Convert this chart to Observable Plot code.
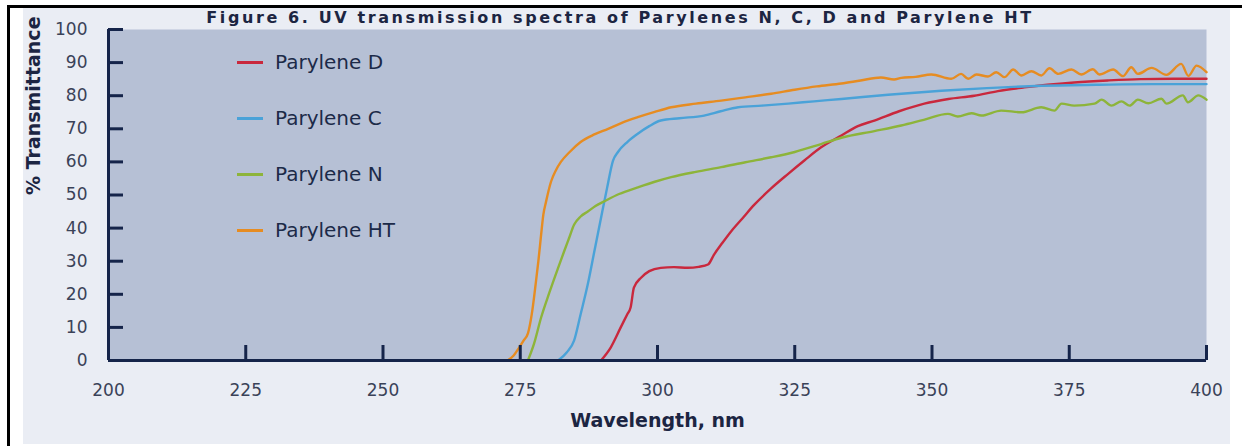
<!DOCTYPE html>
<html>
<head>
<meta charset="utf-8">
<script src="https://cdn.jsdelivr.net/npm/d3@7"></script>
<script src="https://cdn.jsdelivr.net/npm/@observablehq/plot@0.6"></script>
<style>
  html, body { margin: 0; padding: 0; background: #ffffff; }
  #wrap { position: relative; width: 1242px; height: 446px; overflow: hidden; background: #ffffff; font-family: "DejaVu Sans", sans-serif; }
  #scan { position: absolute; left: 23px; top: 8px; width: 1207px; height: 436px; background: #eaedf4; }
  #topline { position: absolute; left: 7px; top: 5px; width: 1235px; height: 3px; background: #000; }
  #leftline { position: absolute; left: 7px; top: 5px; width: 2.5px; height: 441px; background: #000; }
  #title { position: absolute; left: 0; width: 1240px; top: 8px; text-align: center; white-space: nowrap; font: bold 16px "DejaVu Sans", sans-serif; letter-spacing: 2.6px; color: #1c2542; line-height: 19px; }
  #chart { position: absolute; left: 0; top: 0; }
  .leg { position: absolute; left: 237px; height: 24px; }
  .leg .sw { position: absolute; left: 0; top: 11px; width: 26px; height: 2.5px; }
  .leg .lab { position: absolute; left: 38px; top: 0; white-space: nowrap; font: 20px "DejaVu Sans", sans-serif; color: #1c2a48; line-height: 24px; }
</style>
</head>
<body>
<div id="wrap">
  <div id="scan"></div>
  <div id="topline"></div>
  <div id="leftline"></div>
  <div id="title">Figure 6. UV transmission spectra of Parylenes N, C, D and Parylene HT</div>
  <div id="chart"></div>
  <div id="legend"></div>
</div>
<script>
// ---- data ----
const seriesNames = ["Parylene D", "Parylene C", "Parylene N", "Parylene HT"];
const seriesColors = ["#c9283d", "#4aa2d8", "#8db43a", "#e68c22"];
const xTicks = [200, 225, 250, 275, 300, 325, 350, 375, 400];
const yTicks = [0, 10, 20, 30, 40, 50, 60, 70, 80, 90, 100];

const dWl = [289.7,291.5,293.3,294.5,295.1,295.7,297,298.5,300.6,303,305.5,307.5,309.2,310.3,311.8,313.4,315.5,317.6,320.7,323.8,326.8,329.8,333.5,336.5,339.5,344,348.6,353,357.7,362,366.8,371,375.9,382,388,394,400];
const dT  = [0,4,10,14,16,22,25,27,28,28.2,28,28.3,29,32,35.5,39,43,47,52,56.4,60.5,64.4,68,70.8,72.5,75.3,77.6,79,80,81.4,82.5,83.3,84,84.6,85,85.1,85.1];

const cWl = [281.9,283.5,284.8,286,287.3,288.5,289.7,290.8,291.9,292.8,294.5,296.4,298.5,300.6,304,308.5,311.5,314.7,319,323.8,328.5,333.5,342,351.7,360,370,380,390,400];
const cT  = [0,2.5,6,14,23,33,43,52,60.4,63,66,68.5,70.8,72.5,73.2,74,75.3,76.5,77,77.6,78.3,79,80.3,81.5,82.3,83,83.3,83.5,83.5];

const nWl = [276.4,277.5,278.8,280.3,281.9,283,283.9,284.8,286,287.3,288.7,290.2,293,296.4,299.5,302.5,307,311.6,316,320.7,325,329.8,333.5,339.5,344.4,348.5,352.9,354.7,357.2,359,362.6,366.3,369.9,372.3,373.6,375.9,379.6,380.9,382.7,384.5,386,387.5,389.4,391.8,392.7,395.7,396.6,398.5,400];
const nT  = [0,5,13,20.5,28,33,37,41,43.5,45,46.7,48,50.3,52.3,54,55.4,57,58.4,59.9,61.4,63,65.4,67.3,69.3,71,72.7,74.5,73.7,74.7,74,75.5,75,76.5,75.5,77.6,77,77.6,78.8,77,78.3,77,78.8,77.7,79.1,77.6,80.1,78,80.1,78.8];

const htWl = [272.7,273.8,274.8,275.6,276.4,277.1,277.8,278.3,278.8,279.2,279.7,280.6,281.5,282.4,284,286,288.5,291,293.5,296.4,299.5,302.5,307,311.6,316,320.7,325,329,333.5,337,340.7,343.1,344.4,347,349.9,353.5,355.3,356.6,358.1,360.2,361.7,363.2,364.8,366.3,368.1,369.9,371.4,373,375.4,377.2,379.3,380.5,383,384.8,386.3,387.5,390,392.7,395.4,396.7,398.2,400];
const htT  = [0,1.5,3.9,6,8.2,14,23,30,38,44,48,54,57.5,60,63,66,68.3,70,71.8,73.5,75.1,76.5,77.6,78.5,79.5,80.6,81.8,82.8,83.7,84.6,85.5,84.9,85.4,85.7,86.4,85.1,86.6,85.1,86.4,85.8,87.1,85.6,87.9,86.1,87.4,86.1,88.3,86.6,87.9,86.4,88,86.4,87.9,85.9,88.6,86.6,88.4,86.3,89.6,86,89.1,87.1];

// ---- table built from the arrays ----
const seriesData = [
  {name: seriesNames[0], wl: dWl, t: dT},
  {name: seriesNames[1], wl: cWl, t: cT},
  {name: seriesNames[2], wl: nWl, t: nT},
  {name: seriesNames[3], wl: htWl, t: htT}
];
const rows = seriesData.flatMap(s => s.wl.map((w, i) => ({series: s.name, wl: w, t: s.t[i]})));

const navy = "#15244a";
const tickText = "#3a4258";

const chart = Plot.plot({
  width: 1242,
  height: 446,
  marginLeft: 108,
  marginRight: 36,
  marginTop: 29,
  marginBottom: 86,
  x: {domain: [200, 400]},
  y: {domain: [0, 100]},
  color: {domain: seriesNames, range: seriesColors},
  style: {background: "transparent", fontFamily: "DejaVu Sans, sans-serif", fontSize: "17px", color: tickText, overflow: "visible"},
  marks: [
    Plot.frame({fill: "#b6c0d5", stroke: "none"}),
    Plot.line(rows, {x: "wl", y: "t", z: "series", stroke: "series", strokeWidth: 2.4, curve: "monotone-x"}),
    Plot.ruleX([200], {stroke: navy, strokeWidth: 3}),
    Plot.ruleY([0], {stroke: navy, strokeWidth: 3}),
    Plot.axisY({ticks: yTicks, tickSize: 15, dx: 15, stroke: navy, strokeWidth: 3, tickFormat: () => "", label: null}),
    Plot.axisY({ticks: yTicks, tickSize: 0, tickPadding: 21, label: null, fill: tickText}),
    Plot.axisX({ticks: xTicks, tickSize: 15, dy: -15, stroke: navy, strokeWidth: 3, tickFormat: () => "", label: null}),
    Plot.axisX({ticks: xTicks, tickSize: 0, tickPadding: 23, label: null, fill: tickText}),
    Plot.text(["Wavelength, nm"], {frameAnchor: "bottom", dy: 66, fontSize: 19, fontWeight: "bold", fill: "#1c2542"}),
    Plot.text(["% Transmittance"], {frameAnchor: "left", dx: -75, rotate: -90, fontSize: 19, fontWeight: "bold", fill: "#1c2542"})
  ]
});
document.getElementById("chart").appendChild(chart);

// ---- legend (inside the plot, as in the reference) ----
const legendTops = [50, 106, 162, 218];
const legend = document.getElementById("legend");
seriesNames.forEach((name, i) => {
  const item = document.createElement("div");
  item.className = "leg";
  item.style.top = legendTops[i] + "px";
  const sw = document.createElement("div");
  sw.className = "sw";
  sw.style.background = seriesColors[i];
  const lab = document.createElement("div");
  lab.className = "lab";
  lab.textContent = name;
  item.appendChild(sw);
  item.appendChild(lab);
  legend.appendChild(item);
});
</script>
</body>
</html>
